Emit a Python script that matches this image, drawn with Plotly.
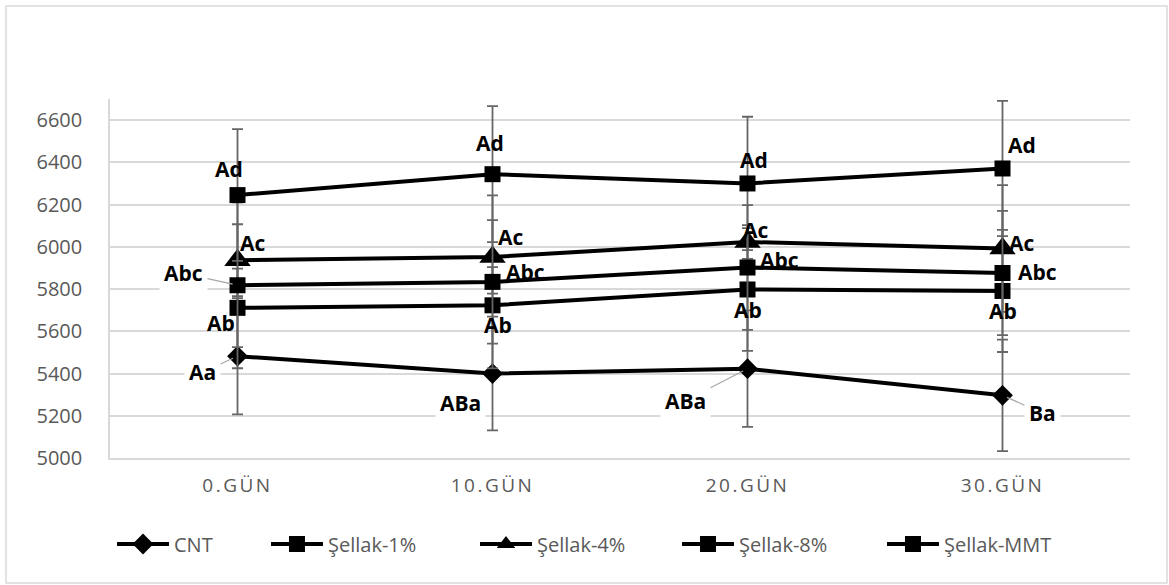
import plotly.graph_objects as go

# ---- data -------------------------------------------------------------
days = ["0.GÜN", "10.GÜN", "20.GÜN", "30.GÜN"]

cnt = [5482, 5400, 5423, 5297]
sellak_1 = [5711, 5723, 5798, 5791]
sellak_4 = [5937, 5952, 6023, 5992]
sellak_8 = [5818, 5834, 5902, 5876]
sellak_mmt = [6245, 6344, 6300, 6371]

cnt_err = [275, 269, 276, 264]
sellak_1_err = [186, 181, 291, 289]
sellak_4_err = [170, 174, 80, 300]
sellak_8_err = [393, 410, 295, 294]
sellak_mmt_err = [312, 322, 316, 320]

cnt_letters = ["Aa", "ABa", "ABa", "Ba"]
sellak_1_letters = ["Ab", "Ab", "Ab", "Ab"]
sellak_4_letters = ["Ac", "Ac", "Ac", "Ac"]
sellak_8_letters = ["Abc", "Abc", "Abc", "Abc"]
sellak_mmt_letters = ["Ad", "Ad", "Ad", "Ad"]

y_ticks = [5000, 5200, 5400, 5600, 5800, 6000, 6200, 6400, 6600]

# ---- layout geometry (pixels) ------------------------------------------
W, H = 1169, 585
M_L, M_R, M_T, M_B = 110, 39, 99, 127
PW, PH = W - M_L - M_R, H - M_T - M_B


def px_x(p):
    return (p - M_L) / PW


def px_y(p):
    return (H - M_B - p) / PH


FONT = "Open Sans"
GRID = "#d9d9d9"
TXT = "#595959"

series = [
    ("CNT", cnt, cnt_err, cnt_letters, "diamond", 16),
    ("Şellak-1%", sellak_1, sellak_1_err, sellak_1_letters, "square", 16),
    ("Şellak-4%", sellak_4, sellak_4_err, sellak_4_letters, "triangle-up", 23),
    ("Şellak-8%", sellak_8, sellak_8_err, sellak_8_letters, "square", 16),
    ("Şellak-MMT", sellak_mmt, sellak_mmt_err, sellak_mmt_letters, "square", 16),
]

# label placement per series: (dx, dy, leader line, white box), screen pixels
label_style = {
    "CNT": [(-35, 16, True, True), (-32, 29, False, True),
            (-62, 32, True, True), (40, 18, True, True)],
    "Şellak-1%": [(-17, 15, False, False), (5, 20, False, False),
                  (0, 21, False, False), (0, 20, False, False)],
    "Şellak-4%": [(15, -17, False, False), (18, -20, False, False),
                  (8, -12, False, False), (19, -6, False, False)],
    "Şellak-8%": [(-54, -12, True, True), (33, -10, False, False),
                  (32, -8, False, False), (35, -1, False, False)],
    "Şellak-MMT": [(-9, -26, False, False), (-3, -31, False, False),
                   (6, -23, False, False), (19, -23, False, False)],
}

legend_left = [112, 266, 475, 677, 882]

fig = go.Figure()
annotations = []
legends = {}

for i, (name, vals, errs, letters, symbol, msize) in enumerate(series):
    lg = "legend" if i == 0 else f"legend{i + 1}"
    fig.add_trace(go.Scatter(
        x=days, y=vals, name=name, mode="lines+markers",
        line=dict(color="black", width=4),
        marker=dict(symbol=symbol, size=msize, color="black"),
        error_y=dict(type="data", array=errs, visible=True,
                     color="#666666", thickness=1.8, width=5.5),
        legend=lg, showlegend=True,
    ))
    legends[lg] = dict(
        x=px_x(legend_left[i]), y=px_y(544), xanchor="left", yanchor="middle",
        orientation="h", bgcolor="rgba(0,0,0,0)", borderwidth=0,
        font=dict(family=FONT, size=20, color=TXT), itemwidth=52,
    )
    for j, (day, v, txt) in enumerate(zip(days, vals, letters)):
        dx, dy, leader, box = label_style[name][j]
        ann = dict(
            x=day, y=v, xref="x", yref="y", text=txt,
            font=dict(family=FONT, size=21, color="black", weight="bold"),
            bgcolor="white" if box else None, borderpad=4,
        )
        if leader:
            ann.update(showarrow=True, ax=dx, ay=dy, arrowhead=0,
                       arrowwidth=1.2, arrowcolor="#a6a6a6", standoff=5)
        else:
            ann.update(showarrow=False, xshift=dx, yshift=-dy)
        annotations.append(ann)

fig.update_layout(
    width=W, height=H,
    margin=dict(l=M_L, r=M_R, t=M_T, b=M_B),
    paper_bgcolor="white", plot_bgcolor="white",
    showlegend=True,
    annotations=annotations,
    shapes=[dict(type="rect", xref="paper", yref="paper",
                 x0=px_x(6), x1=px_x(1167), y0=px_y(583), y1=px_y(6),
                 line=dict(color=GRID, width=1.5), fillcolor="rgba(0,0,0,0)",
                 layer="below")],
    **legends,
)

fig.update_xaxes(
    type="category", range=[-0.5, 3.5], showgrid=False,
    showline=True, linecolor=GRID, linewidth=1.5, ticks="",
    tickfont=dict(family=FONT, size=19, color=TXT), ticklabelstandoff=9,
)
fig.update_yaxes(
    range=[5000, 6700], tickvals=y_ticks, showgrid=True,
    gridcolor=GRID, gridwidth=1.5, showline=True, linecolor=GRID,
    linewidth=1.5, ticks="", zeroline=False,
    tickfont=dict(family=FONT, size=20, color=TXT), ticklabelstandoff=22,
)

spacing_js = """
var gd = document.querySelector('.plotly-graph-div');
function spaceTicks() {
  gd.querySelectorAll('.xtick text').forEach(function (t) {
    t.style.letterSpacing = '2.5px';
  });
}
spaceTicks();
gd.on('plotly_afterplot', spaceTicks);
"""

fig.write_html("out.html", post_script=spacing_js)
